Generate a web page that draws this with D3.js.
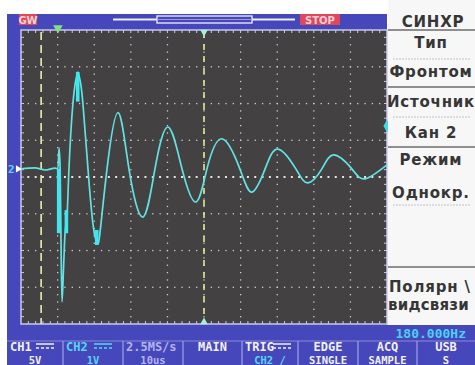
<!DOCTYPE html>
<html>
<head>
<meta charset="utf-8">
<script src="https://cdn.jsdelivr.net/npm/d3@7"></script>
<style>
body{margin:0;background:#fff}
svg{display:block}
</style>
</head>
<body>
<div id="scope"></div>
<script>
// CH2 trace: time in us (0 = screen centre), volts at 1 V/div
const tUs = [-50, -46.2, -43.4, -40.7, -39.9, -39.6, -39.3, -39.07, -38.8, -38.4, -38.0, -37.4, -36.9,
  -35.8, -35.0, -34.4, -33.9, -33.1, -31.7, -30.3, -29.2, -28.4, -26.5, -23.5, -20.5, -16.7, -13.4,
  -9.8, -6.0, -2.2, 0.8, 4.9, 9.8, 13.1, 16.7, 20.2, 25.1, 28.4, 32.2, 35.5, 40.4, 44.0, 50.0];
const ch2V = [0, 0.03, -0.03, 0.02, 0, 0.57, 0, -1.93, -3.62, -2.75, -1.8, -1.25, 0,
  1.8, 2.43, 2.64, 2.43, 1.8, 0, -1.53, -2.02, -1.72, 0, 1.53, 0, -1.31, 0,
  1.14, 0, -0.9, 0, 0.82, 0, -0.63, 0, 0.54, 0, -0.38, 0, 0.38, 0, -0.27, 0.11];
// spots where many samples pile up (drawn thick)
const blobT = [-39.7, -37.6, -34.5, -29.3];
const blobHi = [0, -1.12, 2.64, -1.66];
const blobLo = [-1.75, -1.75, 1.83, -2.07];

const ch2Offset = 0.22;          // divisions above centre
const cursorT = -44.5;           // dashed time cursor
const trigT = -39.9;             // trigger mark

const menuTitle = "СИНХР";
const menuText = ["Тип", "Фронтом", "Источник", "Кан 2", "Режим", "Однокр."];
const menuBase = [48, 77, 107, 138, 165, 198];
const menuLast = ["Полярн \\", "видсвязи"];
const freqText = "180.000Hz";
const statusTop = ["CH1", "CH2", "2.5MS/s", "MAIN", "TRIG", "EDGE", "ACQ", "USB"];
const statusBot = ["5V", "1V", "10us", "", "CH2 /", "SINGLE", "SAMPLE", "S"];
const statusCol = ["#f2f2f2", "#55d6f2", "#b4b4f0", "#f2f2f2", "#f2f2f2", "#f2f2f2", "#f2f2f2", "#f2f2f2"];
const boxEdges = [7, 63, 123, 183, 242, 298, 358, 417, 475];

const W = 475, H = 365;
const X0 = 21, X1 = 387, Y0 = 30, Y1 = 324;
const BLUE = "#4747bc";

const svg = d3.select("#scope").append("svg").attr("width", W).attr("height", H);

const x = d3.scaleLinear().domain([-50, 50]).range([X0, X1]);
const y = d3.scaleLinear().domain([-4 - ch2Offset, 4 - ch2Offset]).range([Y1, Y0]);
const div = d3.scaleLinear().domain([-4, 4]).range([Y1, Y0]);

// frame
svg.append("rect").attr("x", 7).attr("y", 14).attr("width", X1 - 7).attr("height", H - 14).attr("fill", BLUE);
svg.append("rect").attr("x", 7).attr("y", 325).attr("width", W - 7).attr("height", 40).attr("fill", BLUE);
svg.append("rect").attr("x", X0).attr("y", Y0).attr("width", X1 - X0).attr("height", Y1 - Y0).attr("fill", "#434141");

// grid dots
const g = svg.append("g");
const step = (Y1 - Y0) / 40;
d3.range(-40, 41, 10).forEach(t => {
  d3.range(1, 40).forEach(k => {
    g.append("rect").attr("x", x(t) - 0.6).attr("y", Y0 + k * step - 0.6)
      .attr("width", 1.3).attr("height", 1.3).attr("fill", "#cfcfcf");
  });
});
d3.range(-3, 4).forEach(d => {
  const big = d === 0;
  d3.range(1, 50).forEach(k => {
    const xs = X0 + k * (X1 - X0) / 50;
    g.append("rect").attr("x", xs - (big ? 1 : 0.6)).attr("y", div(d) - (big ? 1 : 0.6))
      .attr("width", big ? 2 : 1.3).attr("height", big ? 2 : 1.3).attr("fill", big ? "#e6e6e6" : "#cfcfcf");
  });
});
// border with ticks
g.append("rect").attr("x", X0).attr("y", Y0).attr("width", X1 - X0).attr("height", Y1 - Y0)
  .attr("fill", "none").attr("stroke", "#c8c8ec").attr("stroke-width", 1.5);
d3.range(1, 50).forEach(k => {
  const xs = X0 + k * (X1 - X0) / 50;
  g.append("line").attr("x1", xs).attr("x2", xs).attr("y1", Y0).attr("y2", Y0 + 3).attr("stroke", "#c8c8ec");
  g.append("line").attr("x1", xs).attr("x2", xs).attr("y1", Y1).attr("y2", Y1 - 3).attr("stroke", "#c8c8ec");
});
d3.range(1, 40).forEach(k => {
  const ys = Y0 + k * step;
  g.append("line").attr("x1", X0).attr("x2", X0 + 3).attr("y1", ys).attr("y2", ys).attr("stroke", "#c8c8ec");
  g.append("line").attr("x1", X1).attr("x2", X1 - 3).attr("y1", ys).attr("y2", ys).attr("stroke", "#c8c8ec");
});

// cursors
svg.append("line").attr("x1", x(cursorT)).attr("x2", x(cursorT)).attr("y1", Y0 + 2).attr("y2", Y1)
  .attr("stroke", "#e6f0b0").attr("stroke-width", 1.6).attr("stroke-dasharray", "8,5");
svg.append("line").attr("x1", x(0)).attr("x2", x(0)).attr("y1", Y0 + 2).attr("y2", Y1)
  .attr("stroke", "#dcec90").attr("stroke-width", 1.6).attr("stroke-dasharray", "6,6");
svg.append("path").attr("d", d3.symbol(d3.symbolTriangle, 40)())
  .attr("transform", `translate(${x(trigT)},${Y0 - 2}) rotate(180)`).attr("fill", "#7ee08c");
svg.append("path").attr("d", d3.symbol(d3.symbolTriangle, 25)())
  .attr("transform", `translate(${x(0)},${Y0 + 2}) rotate(180)`).attr("fill", "#a8f0d8");
svg.append("path").attr("d", d3.symbol(d3.symbolTriangle, 25)())
  .attr("transform", `translate(${x(0)},${Y1 - 2})`).attr("fill", "#a8f0d8");
// trigger level marker and ground marker
svg.append("path").attr("d", d3.symbol(d3.symbolDiamond, 45)())
  .attr("transform", `translate(${X1},${y(1.17)})`).attr("fill", "#3fd8ee");
svg.append("text").attr("x", 8).attr("y", y(0) + 4).text("2")
  .attr("font-family", "DejaVu Sans Mono").attr("font-size", 11).attr("font-weight", "bold").attr("fill", "#55d6f2");
svg.append("path").attr("d", d3.symbol(d3.symbolTriangle, 22)())
  .attr("transform", `translate(${X0 - 3},${y(0)}) rotate(90)`).attr("fill", "#ffffff");

// trace: jagged start with monotone pieces, smooth ringing with a natural spline
const pts = tUs.map((t, i) => [t, ch2V[i]]);
const split = tUs.indexOf(-34.4);
const line = d3.line().x(d => x(d[0])).y(d => y(d[1]));
svg.append("path").datum(pts.slice(0, split + 1))
  .attr("d", line.curve(d3.curveMonotoneX))
  .attr("fill", "none").attr("stroke", "#62e2e2").attr("stroke-width", 1.7);
svg.append("path").datum(pts.slice(split))
  .attr("d", line.curve(d3.curveNatural))
  .attr("fill", "none").attr("stroke", "#62e2e2").attr("stroke-width", 1.7);
svg.selectAll(".blob").data(blobT).enter().append("rect")
  .attr("x", d => x(d) - 1.8).attr("width", 3.6)
  .attr("y", (d, i) => y(blobHi[i])).attr("height", (d, i) => y(blobLo[i]) - y(blobHi[i]))
  .attr("fill", "#3ee6f2");

// top strip
svg.append("rect").attr("x", 19).attr("y", 14).attr("width", 18).attr("height", 11).attr("fill", "#e0485a");
svg.append("text").attr("x", 28).attr("y", 23.5).attr("text-anchor", "middle").text("GW")
  .attr("font-family", "DejaVu Sans").attr("font-size", 10).attr("font-weight", "bold").attr("fill", "#f6d0d6");
svg.append("line").attr("x1", 113).attr("x2", 295).attr("y1", 19.5).attr("y2", 19.5)
  .attr("stroke", "#f0f0f8").attr("stroke-width", 2);
svg.append("rect").attr("x", 157).attr("y", 16).attr("width", 95).attr("height", 7)
  .attr("fill", BLUE).attr("stroke", "#f0f0f8").attr("stroke-width", 1.3);
svg.append("line").attr("x1", 157).attr("x2", 252).attr("y1", 19.5).attr("y2", 19.5)
  .attr("stroke", "#9a9ad8").attr("stroke-width", 1);
svg.append("rect").attr("x", 300).attr("y", 14).attr("width", 40).attr("height", 11).attr("fill", "#e0485a");
svg.append("text").attr("x", 320).attr("y", 23.5).attr("text-anchor", "middle").text("STOP")
  .attr("font-family", "DejaVu Sans").attr("font-size", 10).attr("font-weight", "bold").attr("fill", "#f6d0d6");

// menu panel
const mx = 431;
const mp = svg.append("g").attr("font-family", "DejaVu Sans").attr("font-weight", "bold").attr("fill", "#363636")
  .attr("letter-spacing", 0.8);
mp.append("rect").attr("x", 388).attr("y", 0).attr("width", W - 388).attr("height", 325).attr("fill", "#f7f7f7");
mp.append("text").attr("x", mx + 2).attr("y", 27).attr("text-anchor", "middle").attr("font-size", 15).text(menuTitle);
[30, 87, 147, 267].forEach(v => mp.append("line").attr("x1", 388).attr("x2", W).attr("y1", v).attr("y2", v)
  .attr("stroke", "#6c6c6c").attr("stroke-width", 1.5));
[59, 117, 205].forEach(v => mp.append("line").attr("x1", 393).attr("x2", 470).attr("y1", v).attr("y2", v)
  .attr("stroke", "#c4c4c4").attr("stroke-width", 1).attr("stroke-dasharray", "2,1"));
menuText.forEach((s, i) => mp.append("text").attr("x", mx).attr("y", menuBase[i])
  .attr("text-anchor", "middle").attr("font-size", 15).text(s));
mp.append("text").attr("x", 389).attr("y", 292).attr("font-size", 15).text(menuLast[0]);
mp.append("text").attr("x", 388).attr("y", 310).attr("font-size", 15).attr("letter-spacing", 0.2).text(menuLast[1]);

// frequency readout
svg.append("text").attr("x", 466).attr("y", 338).attr("text-anchor", "end").text(freqText)
  .attr("font-family", "DejaVu Sans Mono").attr("font-size", 13).attr("font-weight", "bold").attr("fill", "#48d2f2");

// status bar
const sb = svg.append("g").attr("font-family", "DejaVu Sans Mono").attr("font-size", 12).attr("font-weight", "bold");
sb.append("line").attr("x1", 7).attr("x2", W).attr("y1", 341).attr("y2", 341).attr("stroke", "#8a8ad8");
boxEdges.slice(1, -1).forEach(e => sb.append("line").attr("x1", e).attr("x2", e).attr("y1", 341).attr("y2", H)
  .attr("stroke", "#9a9ae0").attr("stroke-width", 1.3));
statusTop.forEach((s, i) => {
  const cx = (boxEdges[i] + boxEdges[i + 1]) / 2;
  const left = i === 0 || i === 1 || i === 2 || i === 4;
  sb.append("text").attr("x", left ? boxEdges[i] + 3 : cx).attr("y", 351)
    .attr("text-anchor", left ? "start" : "middle").attr("fill", statusCol[i]).text(s);
  sb.append("text").attr("x", cx).attr("y", 364).attr("text-anchor", "middle").attr("font-size", 10.5)
    .attr("fill", i === 4 ? "#55d6f2" : statusCol[i]).text(statusBot[i]);
});
// DC coupling glyphs
[[36, "#f2f2f2"], [94, "#55d6f2"], [273, "#f2f2f2"]].forEach(([gx, c]) => {
  sb.append("line").attr("x1", gx).attr("x2", gx + 18).attr("y1", 344).attr("y2", 344).attr("stroke", c).attr("stroke-width", 1.5);
  sb.append("line").attr("x1", gx).attr("x2", gx + 18).attr("y1", 348).attr("y2", 348).attr("stroke", c)
    .attr("stroke-width", 1.5).attr("stroke-dasharray", "3,2");
});
</script>
</body>
</html>
